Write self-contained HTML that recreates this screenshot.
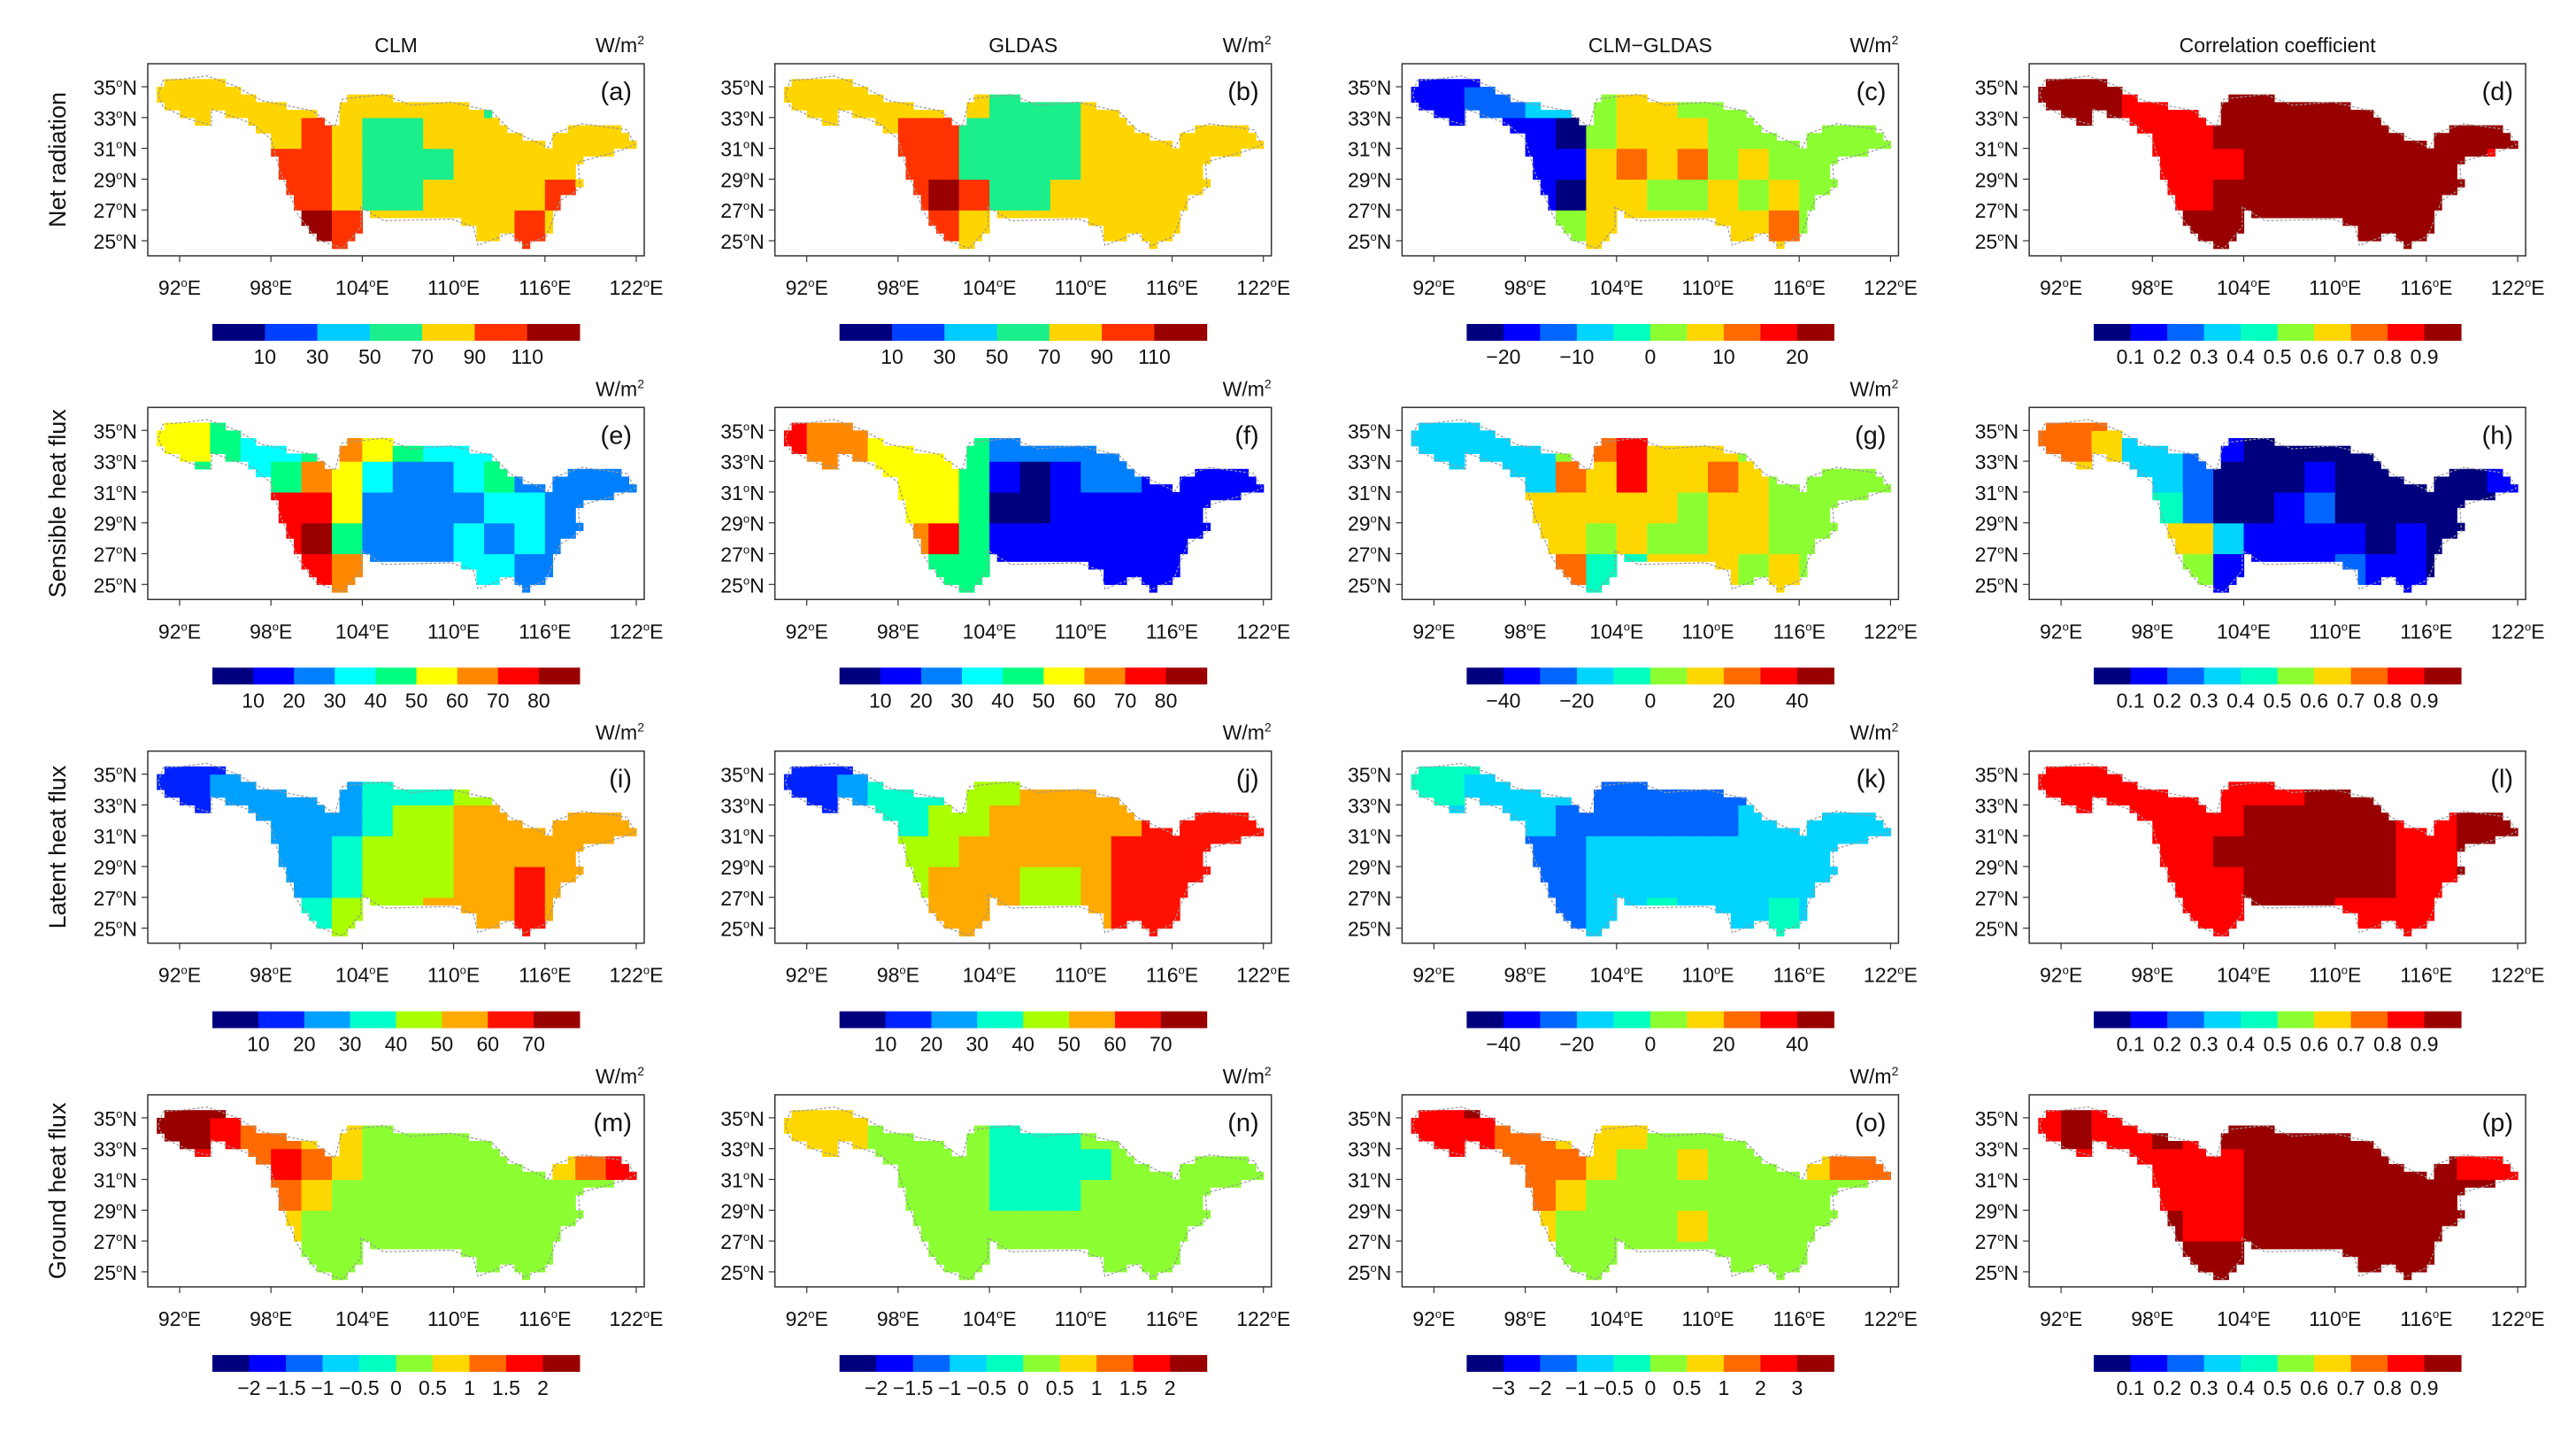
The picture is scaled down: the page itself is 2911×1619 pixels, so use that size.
<!DOCTYPE html>
<html><head><meta charset="utf-8">
<style>
html,body{margin:0;padding:0;background:#fff;}
svg{display:block;font-family:"Liberation Sans Narrow","Liberation Sans",sans-serif;}
</style></head>
<body>
<svg id="fig" width="2911" height="1619" viewBox="0 0 2911 1619" xmlns="http://www.w3.org/2000/svg"></svg>
<script>
// ---- Data ----
const colTitles = ["CLM","GLDAS","CLM\u2212GLDAS","Correlation coefficient"];
const rowTitles = ["Net radiation","Sensible heat flux","Latent heat flux","Ground heat flux"];
const panelLetters = ["a","b","c","d","e","f","g","h","i","j","k","l","m","n","o","p"];
const lonTicks = [92,98,104,110,116,122];
const latTicks = [35,33,31,29,27,25];
// palettes (colors)
const palNR = ["#00007f","#0040ff","#00ccff","#1aef8c","#ffd500","#ff3300","#990000"];
const palSH = ["#00007f","#0000ff","#0080ff","#00ffff","#00ff80","#ffff00","#ff8800","#ff0000","#990000"];
const palLH = ["#00007f","#0022ff","#00a0ff","#00ffcc","#aaff00","#ffaa00","#ff1100","#990000"];
const pal10 = ["#00007f","#0000ff","#0066ff","#00d4ff","#00ffc0","#8cff33","#ffd700","#ff6a00","#ff0000","#990000"];
// colorbar labels per panel (label at boundary index)
const cbA = ["10","30","50","70","90","110"];
const cbC = ["\u221220","","\u221210","","0","","10","","20"];
const cbR = ["0.1","0.2","0.3","0.4","0.5","0.6","0.7","0.8","0.9"];
const cbE = ["10","20","30","40","50","60","70","80"];
const cbG = ["\u221240","","\u221220","","0","","20","","40"];
const cbI = ["10","20","30","40","50","60","70"];
const cbM = ["\u22122","\u22121.5","\u22121","\u22120.5","0","0.5","1","1.5","2"];
const cbO = ["\u22123","\u22122","\u22121","\u22120.5","0","0.5","1","2","3"];
// class grids: 2deg cells, lon 90..122 (16 cols), lat bands 37-35,35-33,...,25-23 (7 rows)
const gA = ["4444444444444444","4444444444434444","4444454334444444","4444554333444444","4444554334444544","4444565444445444","4444555444445444"];
const gB = ["4444444444444444","4444444333444444","4444553333444444","4444553333444444","4444565334444444","4444554444444444","4444554444444444"];
const gC = ["1111111111111111","1122335665555555","1111105666555555","1111116767565555","1111106655656555","1111756666667555","1111756666666555"];
const gD = ["9999999999999999","9998889999999999","9998889999999999","9999888999999998","9999889999999999","9999899999999999","9999899999999999"];
const gE = ["5544444444444444","5543346543332222","5443465322342222","5544775222233222","5544784222323222","5544776222332222","5544776222332222"];
const gF = ["7666666666666666","7665554222221111","6665554101221111","6666554001111111","6666674111111111","6666544111111111","4444444111111111"];
const gG = ["3333333333333333","3333357866655555","3333376866765555","3333666665665555","3333665655665555","3333774466656555","3333774466656555"];
const gH = ["7777777777777777","7763321000000000","6633320001000001","6633420012000000","6666663111101000","7777751111211000","7777751111211000"];
const gI = ["1111111111111111","1122222333444444","1122222344555555","2222223444555555","2222223444556555","2222234445556555","2222234445556555"];
const gJ = ["1111111111111111","1123334455555555","1123344555556666","2233445555566666","2233455544566666","2233555544566666","2233555544566666"];
const gK = ["4444444444444444","4433332222223333","4333322222233333","3333223333333333","3333223333333334","3333223343334333","3333223343334333"];
const gL = ["8888888888888888","8888888889998888","8888888999998899","8888889999998899","8888888999998899","8888688999888888","8888688999888888"];
const gM = ["9999999999999999","9987766555555555","9877876555555678","9987765555555555","9987655555555555","9985555555555555","9985555555555555"];
const gN = ["6666666666666666","6665555444555555","6655555444455555","6655555444555555","6655555555555555","6655555555555555","6655555555555555"];
const gO = ["8898888888888888","8887766655555555","8877776556555677","8877765555555555","8877655556555555","8877655555555555","8877655555555555"];
const gP = ["8988888888888888","8988989999999999","8888888999999988","8888888999999999","8888988999999999","9999999999999999","9999999999999999"];
const grids = [gA,gB,gC,gD,gE,gF,gG,gH,gI,gJ,gK,gL,gM,gN,gO,gP];
const pals = [palNR,palNR,pal10,pal10,palSH,palSH,pal10,pal10,palLH,palLH,pal10,pal10,pal10,pal10,pal10,pal10];
const cbs = [cbA,cbA,cbC,cbR,cbE,cbE,cbG,cbR,cbI,cbI,cbG,cbR,cbM,cbM,cbO,cbR];
// basin outline [lon, lat]
const basinLon = [90.6,90.9,92.2,93.8,95.6,97.4,100.7,102.2,102.7,105.4,107.2,109.85,112.5,113.7,116.2,116.7,118.45,121.4,121.9,121.1,118.2,118.3,117.0,116.1,114.6,113.7,111.6,111.3,109.85,105.4,103.9,103.9,102.7,101.0,99.8,98.6,98.0,96.8,94.1,94.1,92.6,90.9];
const basinLat = [34.5,35.4,35.5,35.7,35.07,34.1,33.45,32.4,34.2,34.5,33.8,34.0,33.4,32.2,31.05,32.0,32.6,32.2,31.25,30.9,30.1,28.4,27.6,25.3,24.65,25.5,24.7,25.9,26.4,26.3,27.2,25.9,24.5,25.1,26.65,29.5,31.6,32.6,33.55,32.5,32.9,33.7];

// ---- Layout ----
const svg = document.getElementById('fig');
const NS = "http://www.w3.org/2000/svg";
function mk(tag, attrs, parent){ const e=document.createElementNS(NS,tag); for(const k in attrs) e.setAttribute(k,attrs[k]); (parent||svg).appendChild(e); return e; }
const FW=561, FH=217, COL0=167, DX=708.7, ROW0=72, DY=388.3;
function inPoly(x,y){ let c=false; const n=basinLon.length; for(let i=0,j=n-1;i<n;j=i++){ const xi=basinLon[i],yi=basinLat[i],xj=basinLon[j],yj=basinLat[j]; if(((yi>y)!=(yj>y)) && (x < (xj-xi)*(y-yi)/(yj-yi)+xi)) c=!c; } return c; }

for(let p=0;p<16;p++){
  const r=Math.floor(p/4), c=p%4;
  const L=COL0+c*DX, T=ROW0+r*DY;
  const xs = lon => L+36+(lon-92)*17.2;
  const ys = lat => T+26+(35-lat)*17.4;
  const g = mk('g',{});
  
  
  const grid=grids[p], pal=pals[p];
  for(let lon=90.25; lon<122.5; lon+=0.5){
    for(let lat=24.25; lat<37; lat+=0.5){
      if(!inPoly(lon,lat)) continue;
      let ci=Math.floor((lon-90)/2); if(ci>15) ci=15;
      let ri=Math.floor((37-lat)/2); if(ri>6) ri=6; if(ri<0) ri=0;
      const k=parseInt(grid[ri][ci]);
      const cell=mk('rect',{x:(xs(lon-0.25)).toFixed(1),y:(ys(lat+0.25)).toFixed(1),width:9.2,height:9.3,fill:pal[k]},g);
      
      
    }
  }
  const pts = basinLon.map((lo,i)=>xs(lo).toFixed(1)+','+ys(basinLat[i]).toFixed(1)).join(' ');
  const ol=mk('polygon',{points:pts,fill:'none',stroke:'#999','stroke-width':1.2,'stroke-dasharray':'3,2'},g);
  
  
  const fr=mk('rect',{x:L,y:T,width:FW,height:FH,fill:'none',stroke:'#333','stroke-width':1.5},g);
  
  
  // lon ticks
  lonTicks.forEach(v=>{
    const x=xs(v);
    mk('line',{x1:x,y1:T+FH,x2:x,y2:T+FH+7,stroke:'#333','stroke-width':1.2},g);
    const t=mk('text',{x:x,y:T+FH+44,'text-anchor':'middle','font-size':23,fill:'#111'},g);
    t.innerHTML=v+'<tspan dy="-9" font-size="13">o</tspan><tspan dy="9">E</tspan>';
    
    
  });
  latTicks.forEach(v=>{
    const y=ys(v);
    mk('line',{x1:L-7,y1:y,x2:L,y2:y,stroke:'#333','stroke-width':1.2},g);
    const t=mk('text',{x:L-12,y:y+9,'text-anchor':'end','font-size':23,fill:'#111'},g);
    t.innerHTML=v+'<tspan dy="-9" font-size="13">o</tspan><tspan dy="9">N</tspan>';
    
    
  });
  const lt=mk('text',{x:L+FW-14,y:T+41,'text-anchor':'end','font-size':29,fill:'#111'},g);
  lt.textContent='('+panelLetters[p]+')';
  
  
  if(r===0){
    const ct=mk('text',{x:L+FW/2,y:T-13,'text-anchor':'middle','font-size':23,fill:'#111'},g);
    ct.textContent=colTitles[c];
    
    
  }
  if(c<3){
    const u=mk('text',{x:L+FW,y:T-13,'text-anchor':'end','font-size':23,fill:'#111'},g);
    u.innerHTML='W/m<tspan dy="-9" font-size="14">2</tspan>';
    
    
  }
  if(c===0){
    const cy=T+FH/2;
    const rt=mk('text',{x:74,y:cy,'text-anchor':'middle','font-size':27,fill:'#111',transform:'rotate(-90 74 '+cy+')',style:'font-family:"Liberation Sans",sans-serif'},g);
    rt.textContent=rowTitles[r];
    
    
  }
  // colorbar
  const cbx=L+73, cby=T+294, cbw=415, cbh=19;
  const n=pal.length, sw=cbw/n;
  const cb=mk('g',{},g);
  
  
  pal.forEach((col,i)=>{
    const s=mk('rect',{x:(cbx+i*sw).toFixed(1),y:cby,width:(sw+0.5).toFixed(1),height:cbh,fill:col},cb);
    
    
  });
  const labs=cbs[p];
  labs.forEach((lb,i)=>{
    if(!lb) return;
    const t=mk('text',{x:(cbx+(i+1)*sw).toFixed(1),y:cby+cbh+26,'text-anchor':'middle','font-size':23,fill:'#111'},cb);
    t.textContent=lb;
    
    
  });
}
</script>
</body></html>
